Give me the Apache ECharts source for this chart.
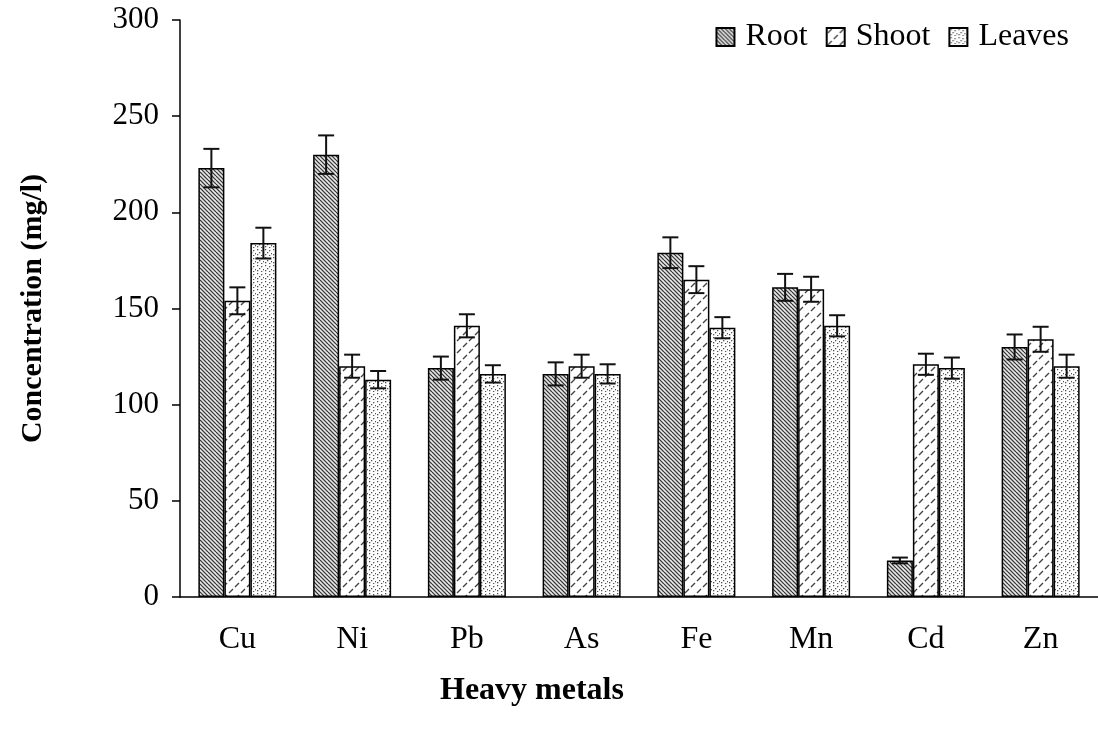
<!DOCTYPE html>
<html>
<head>
<meta charset="utf-8">
<script src="https://cdn.jsdelivr.net/npm/echarts@6/dist/echarts.min.js"></script>
<style>
  html, body { margin: 0; padding: 0; background: #fff; }
  #chart { width: 1098px; height: 730px; }
</style>
</head>
<body>
<div id="chart"></div>
<script>
// data
const categories = ['Cu', 'Ni', 'Pb', 'As', 'Fe', 'Mn', 'Cd', 'Zn']
const rootVals = [223, 230, 119, 116, 179, 161, 19, 130]
const rootErr = [10, 10, 6, 6, 8, 7, 1.5, 6.5]
const shootVals = [154, 120, 141, 120, 165, 160, 121, 134]
const shootErr = [7, 6, 6, 6, 7, 6.5, 5.5, 6.5]
const leavesVals = [184, 113, 116, 116, 140, 141, 119, 120]
const leavesErr = [8, 4.5, 4.5, 5, 5.5, 5.5, 5.5, 6]
const yTicks = [0, 50, 100, 150, 200, 250, 300]

const FONT = '"Liberation Serif", "DejaVu Serif", serif'
const BAR_W = 26

// hatch fills
function hatchRoot() {
  const s = 8
  const c = document.createElement('canvas')
  c.width = s; c.height = s
  const g = c.getContext('2d')
  g.fillStyle = '#e6e6e6'
  g.fillRect(0, 0, s, s)
  g.strokeStyle = '#333'
  g.lineWidth = 1.2
  for (let k = -s; k <= s; k += 4) {
    g.beginPath()
    g.moveTo(0, k)
    g.lineTo(s, k + s)
    g.stroke()
  }
  return c
}

function hatchShoot() {
  const c = document.createElement('canvas')
  c.width = 12; c.height = 12
  const g = c.getContext('2d')
  g.fillStyle = '#fff'
  g.fillRect(0, 0, 12, 12)
  g.strokeStyle = '#444'
  g.lineWidth = 1.4
  g.beginPath()
  g.moveTo(1, 5); g.lineTo(5, 1)
  g.moveTo(7, 11); g.lineTo(11, 7)
  g.stroke()
  return c
}

function hatchLeaves() {
  const c = document.createElement('canvas')
  c.width = 8; c.height = 8
  const g = c.getContext('2d')
  g.fillStyle = '#fff'
  g.fillRect(0, 0, 8, 8)
  g.fillStyle = '#555'
  const dots = [[1, 1], [5, 2], [3, 4], [7, 5], [1, 6], [5, 7]]
  dots.forEach(d => g.fillRect(d[0], d[1], 1.3, 1.3))
  return c
}

const fills = [hatchRoot(), hatchShoot(), hatchLeaves()]
const names = ['Root', 'Shoot', 'Leaves']
const vals = [rootVals, shootVals, leavesVals]
const errs = [rootErr, shootErr, leavesErr]

const barSeries = names.map((n, i) => ({
  name: n,
  type: 'bar',
  barWidth: BAR_W,
  barGap: '0%',
  data: vals[i],
  itemStyle: {
    color: { image: fills[i], repeat: 'repeat' },
    borderColor: '#000',
    borderWidth: 1.5
  },
  z: 2
}))

const errSeries = names.map((n, i) => ({
  type: 'custom',
  name: n + ' err',
  z: 5,
  silent: true,
  data: vals[i].map((v, j) => [j, v - errs[i][j], v + errs[i][j]]),
  encode: { x: 0, y: [1, 2] },
  renderItem: function (params, api) {
    const off = (i - 1) * BAR_W
    const lo = api.coord([api.value(0), api.value(1)])
    const hi = api.coord([api.value(0), api.value(2)])
    const x = lo[0] + off
    const cap = 8
    const st = { stroke: '#111', lineWidth: 2 }
    return {
      type: 'group',
      children: [
        { type: 'line', shape: { x1: x, y1: lo[1], x2: x, y2: hi[1] }, style: st },
        { type: 'line', shape: { x1: x - cap, y1: hi[1], x2: x + cap, y2: hi[1] }, style: st },
        { type: 'line', shape: { x1: x - cap, y1: lo[1], x2: x + cap, y2: lo[1] }, style: st }
      ]
    }
  }
}))

const option = {
  animation: false,
  backgroundColor: '#fff',
  grid: { left: 180, top: 20, width: 928, height: 577 },
  legend: {
    data: names,
    right: 24,
    top: 16,
    itemWidth: 18,
    itemHeight: 18,
    itemGap: 18,
    icon: 'rect',
    textStyle: { fontFamily: FONT, fontSize: 32, color: '#000', padding: [0, 0, 0, 6] }
  },
  xAxis: {
    type: 'category',
    data: categories,
    axisLine: { lineStyle: { color: '#000', width: 1.5 } },
    axisTick: { length: 8, lineStyle: { color: '#000', width: 1.5 } },
    axisLabel: { fontFamily: FONT, fontSize: 32, color: '#000', margin: 27 }
  },
  yAxis: {
    type: 'value',
    min: yTicks[0],
    max: yTicks[yTicks.length - 1],
    interval: 50,
    name: 'Concentration (mg/l)',
    nameLocation: 'middle',
    nameGap: 132,
    nameTextStyle: { fontFamily: FONT, fontSize: 30, fontWeight: 'bold', color: '#000' },
    splitLine: { show: false },
    axisLine: { show: true, lineStyle: { color: '#000', width: 1.5 } },
    axisTick: { show: true, length: 8, lineStyle: { color: '#000', width: 1.5 } },
    axisLabel: { fontFamily: FONT, fontSize: 31, color: '#000', margin: 21 }
  },
  graphic: [{
    type: 'text',
    left: 440,
    top: 675,
    style: { text: 'Heavy metals', font: 'bold 32px ' + FONT, fill: '#000' }
  }],
  series: barSeries.concat(errSeries)
}

const chart = echarts.init(document.getElementById('chart'))
chart.setOption(option)
</script>
</body>
</html>
